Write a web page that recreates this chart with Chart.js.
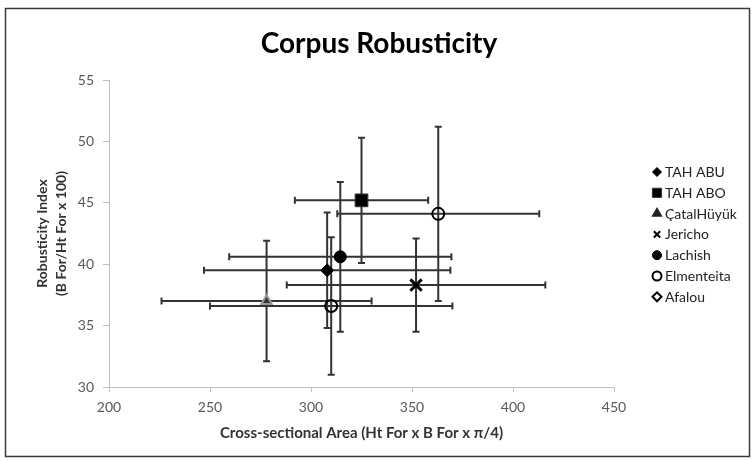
<!DOCTYPE html>
<html>
<head>
<meta charset="utf-8">
<style>
  body { margin: 0; background: #fff; }
  #wrap { width: 754px; height: 461px; }
</style>
<script src="https://cdn.jsdelivr.net/npm/chart.js@4/dist/chart.umd.min.js"></script>
</head>
<body>
<div id="wrap"><canvas id="chart" width="754" height="461"></canvas></div>
<script>
// series names (legend order)
var seriesNames = ["TAH ABU", "TAH ABO", "ÇatalHüyük", "Jericho", "Lachish", "Elmenteita", "Afalou"];
// mean values, one list per series
var xMean = [[308], [325], [278], [352], [314.5], [363, 310], []];
var yMean = [[39.5], [45.2], [37.0], [38.3], [40.6], [44.1, 36.6], []];
// error amounts (+/-)
var xErr = [[61], [33], [52], [64], [55], [50, 60], []];
var yErr = [[4.7], [5.1], [4.9], [3.8], [6.1], [7.1, 5.6], []];
// axis ticks
var xTicks = [200, 250, 300, 350, 400, 450];
var yTicks = [30, 35, 40, 45, 50, 55];

var markers = [
  { pointStyle: 'rectRot', radius: 6.5, backgroundColor: '#000', borderColor: '#000', borderWidth: 1 },
  { pointStyle: 'rect', radius: 9, backgroundColor: '#000', borderColor: '#333', borderWidth: 1 },
  { pointStyle: 'triangle', radius: 6, backgroundColor: '#333', borderColor: '#999', borderWidth: 2 },
  { pointStyle: 'crossRot', radius: 8, backgroundColor: '#000', borderColor: '#000', borderWidth: 3 },
  { pointStyle: 'circle', radius: 6, backgroundColor: '#000', borderColor: '#000', borderWidth: 1 },
  { pointStyle: 'circle', radius: 6, backgroundColor: 'rgba(255,255,255,0)', borderColor: '#000', borderWidth: 2 },
  { pointStyle: 'rectRot', radius: 6, backgroundColor: 'rgba(255,255,255,0)', borderColor: '#000', borderWidth: 2 }
];

var datasets = seriesNames.map(function (name, i) {
  var m = markers[i];
  return {
    label: name,
    data: xMean[i].map(function (x, j) { return { x: x, y: yMean[i][j] }; }),
    pointStyle: m.pointStyle,
    pointRadius: m.radius,
    pointHoverRadius: m.radius,
    backgroundColor: m.backgroundColor,
    borderColor: m.borderColor,
    pointBorderWidth: m.borderWidth
  };
});

// frame + title + legend + error bars
var decor = {
  id: 'decor',
  beforeDraw: function (chart) {
    var ctx = chart.ctx;
    ctx.save();
    ctx.fillStyle = '#fff';
    ctx.fillRect(0, 0, chart.width, chart.height);
    ctx.strokeStyle = '#3a3a3a';
    ctx.lineWidth = 1.5;
    ctx.strokeRect(5.5, 8.5, 744, 448);
    ctx.fillStyle = '#000';
    ctx.font = 'bold 28px Lato';
    ctx.textAlign = 'center';
    ctx.textBaseline = 'middle';
    ctx.fillText('Corpus Robusticity', 379, 44);
    ctx.restore();
  },
  beforeDatasetsDraw: function (chart) {
    var ctx = chart.ctx, xs = chart.scales.x, ys = chart.scales.y;
    ctx.save();
    ctx.strokeStyle = '#333';
    ctx.lineWidth = 2;
    for (var i = 0; i < seriesNames.length; i++) {
      for (var j = 0; j < xMean[i].length; j++) {
        var px = xs.getPixelForValue(xMean[i][j]);
        var py = ys.getPixelForValue(yMean[i][j]);
        var x1 = xs.getPixelForValue(xMean[i][j] - xErr[i][j]);
        var x2 = xs.getPixelForValue(xMean[i][j] + xErr[i][j]);
        var y1 = ys.getPixelForValue(yMean[i][j] + yErr[i][j]);
        var y2 = ys.getPixelForValue(yMean[i][j] - yErr[i][j]);
        ctx.beginPath();
        ctx.moveTo(x1, py); ctx.lineTo(x2, py);
        ctx.moveTo(x1, py - 3.5); ctx.lineTo(x1, py + 3.5);
        ctx.moveTo(x2, py - 3.5); ctx.lineTo(x2, py + 3.5);
        ctx.moveTo(px, y1); ctx.lineTo(px, y2);
        ctx.moveTo(px - 3.5, y1); ctx.lineTo(px + 3.5, y1);
        ctx.moveTo(px - 3.5, y2); ctx.lineTo(px + 3.5, y2);
        ctx.stroke();
      }
    }
    ctx.restore();
  },
  afterDraw: function (chart) {
    var ctx = chart.ctx;
    ctx.save();
    ctx.font = '14px Lato';
    ctx.textAlign = 'left';
    ctx.textBaseline = 'middle';
    for (var i = 0; i < seriesNames.length; i++) {
      var y = 172 + i * 20.8;
      var m = markers[i];
      ctx.fillStyle = m.pointStyle === 'triangle' ? '#222' : m.backgroundColor;
      ctx.strokeStyle = m.pointStyle === 'triangle' ? '#222' : m.borderColor;
      ctx.lineWidth = m.borderWidth > 1.5 ? 2 : 1;
      Chart.helpers.drawPoint(ctx, {
        pointStyle: m.pointStyle,
        radius: m.pointStyle === 'rect' ? 6.5 : 4.5,
        borderWidth: ctx.lineWidth,
        rotation: 0
      }, 657, y);
      ctx.fillStyle = '#222';
      ctx.fillText(seriesNames[i], 665, y + 0.5);
    }
    ctx.restore();
  }
};

new Chart(document.getElementById("chart"), {
  type: 'scatter',
  data: { datasets: datasets },
  options: {
    responsive: false,
    animation: false,
    events: [],
    layout: { padding: { left: 0, top: 80, right: 140, bottom: 0 } },
    plugins: {
      legend: { display: false },
      title: { display: false },
      tooltip: { enabled: false }
    },
    scales: {
      x: {
        type: 'linear',
        min: xTicks[0],
        max: xTicks[xTicks.length - 1],
        afterBuildTicks: function (s) { s.ticks = xTicks.map(function (v) { return { value: v }; }); },
        afterFit: function (s) { s.height = 74; },
        ticks: { color: '#595959', font: { family: 'Lato', size: 14 }, padding: 7 },
        grid: { drawOnChartArea: false, tickLength: 5, color: '#bfbfbf' },
        border: { color: '#bfbfbf', width: 1 },
        title: {
          display: true,
          text: 'Cross-sectional Area (Ht For x B For x π/4)',
          color: '#333',
          font: { family: 'Lato', size: 15, weight: 'bold', lineHeight: 1.3 },
          padding: { top: 0, bottom: 18 }
        }
      },
      y: {
        type: 'linear',
        min: yTicks[0],
        max: yTicks[yTicks.length - 1],
        afterBuildTicks: function (s) { s.ticks = yTicks.map(function (v) { return { value: v }; }); },
        afterFit: function (s) { s.width = 109; },
        ticks: { color: '#595959', font: { family: 'Lato', size: 14 }, padding: 9 },
        grid: { drawOnChartArea: false, tickLength: 6, color: '#bfbfbf' },
        border: { color: '#bfbfbf', width: 1 },
        title: {
          display: true,
          text: ['Robusticity Index', '(B For/Ht For x 100)'],
          color: '#333',
          font: { family: 'Lato', size: 14, weight: 'bold', lineHeight: 1.35 },
          padding: { top: 33, bottom: 0 }
        }
      }
    }
  },
  plugins: [decor]
});
</script>
</body>
</html>
